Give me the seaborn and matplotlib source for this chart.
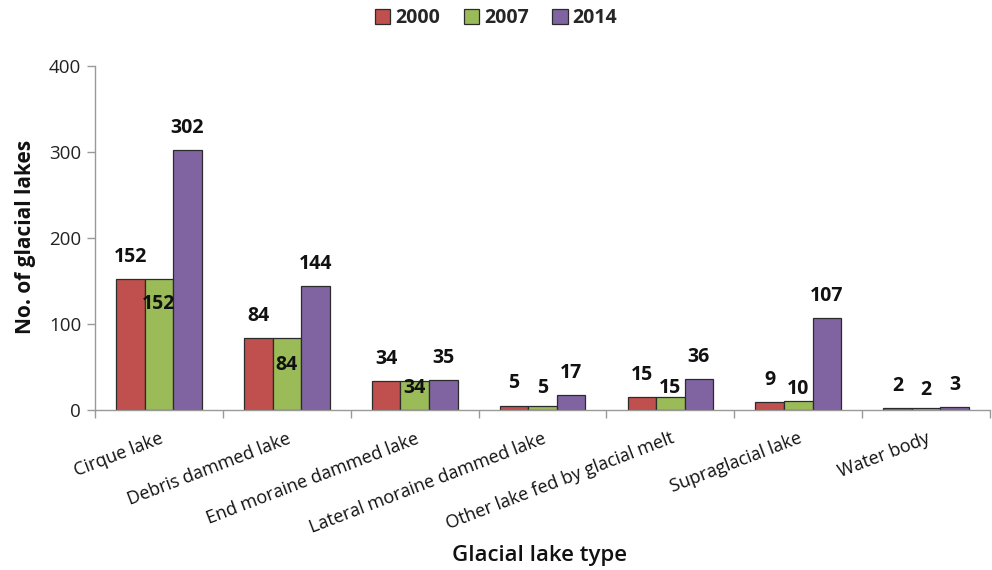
import matplotlib
matplotlib.use("Agg")
import matplotlib.pyplot as plt
import pandas as pd
import seaborn as sns
from matplotlib.patches import Patch
from matplotlib.ticker import FixedLocator, NullFormatter

# Glacial lake counts by type and survey year
lake_types = ["Cirque lake", "Debris dammed lake", "End moraine dammed lake",
              "Lateral moraine dammed lake", "Other lake fed by glacial melt",
              "Supraglacial lake", "Water body"]
years = ["2000", "2007", "2014"]
count_2000 = [152, 84, 34, 5, 15, 9, 2]
count_2007 = [152, 84, 34, 5, 15, 10, 2]
count_2014 = [302, 144, 35, 17, 36, 107, 3]
y_ticks = [0, 100, 200, 300, 400]

colors = ["#C0504D", "#9BBB59", "#8064A2"]

# vertical label offsets (points) per series; the 2007 labels are nudged to avoid overlaps
label_offsets = {
    "2000": [16] * 7,
    "2007": [-18, -19.5, -5, 13, 6.5, 9, 13],
    "2014": [16] * 7,
}

df = pd.DataFrame({
    "type": lake_types * 3,
    "year": [y for y in years for _ in lake_types],
    "count": count_2000 + count_2007 + count_2014,
})

sns.set_theme(style="white")
plt.rcParams["font.family"] = ["Open Sans", "DejaVu Sans"]

fig = plt.figure(figsize=(9.92, 5.70), dpi=100)
ax = fig.add_axes([0.0958, 0.2807, 0.9022, 0.6035])

sns.barplot(data=df, x="type", y="count", hue="year", order=lake_types,
            hue_order=years, palette=colors, width=0.67, gap=0,
            edgecolor="#2b2b2b", linewidth=0.9, saturation=1, ax=ax,
            legend=False)

# value labels above each bar
for container, year in zip(ax.containers, years):
    for bar, off in zip(container, label_offsets[year]):
        val = bar.get_height()
        ax.annotate(f"{val:.0f}", (bar.get_x() + bar.get_width() / 2, val),
                    xytext=(0, off), textcoords="offset points",
                    ha="center", va="center", fontsize=14, fontweight="bold",
                    color="#111111")

ax.set_ylim(0, 400)
ax.set_xlim(-0.5, len(lake_types) - 0.5)
ax.set_yticks(y_ticks)
ax.tick_params(axis="y", which="major", length=6, width=1, color="#999999",
               labelsize=13.5, labelcolor="#222222", pad=4, left=True)

# category labels without tick marks; tick marks on the category boundaries
ax.set_xticks(range(len(lake_types)))
ax.set_xticklabels(lake_types, rotation=21, ha="right", rotation_mode="anchor",
                   fontsize=13, color="#111111")
ax.tick_params(axis="x", which="major", length=0, pad=14)
ax.xaxis.set_minor_locator(FixedLocator([i - 0.5 for i in range(len(lake_types) + 1)]))
ax.xaxis.set_minor_formatter(NullFormatter())
ax.tick_params(axis="x", which="minor", length=6, width=1, color="#999999",
               bottom=True)

for side in ["top", "right"]:
    ax.spines[side].set_visible(False)
for side in ["left", "bottom"]:
    ax.spines[side].set_color("#999999")
    ax.spines[side].set_linewidth(1)

ax.set_ylabel("No. of glacial lakes", fontsize=15, fontweight="bold", color="#111111")
ax.yaxis.set_label_coords(-0.066, 0.503)
ax.set_xlabel("Glacial lake type", fontsize=16, fontweight="semibold", color="#111111")
ax.xaxis.set_label_coords(0.497, -0.393)

handles = [Patch(facecolor=c, edgecolor="#2b2b2b", linewidth=0.9) for c in colors]
fig.legend(handles, years, loc="center", bbox_to_anchor=(0.5, 0.968), ncol=3,
           frameon=False, prop={"size": 14, "weight": "bold"},
           handlelength=0.8, handleheight=0.8, handletextpad=0.25,
           columnspacing=1.2)

fig.savefig("out.png", dpi=100)
